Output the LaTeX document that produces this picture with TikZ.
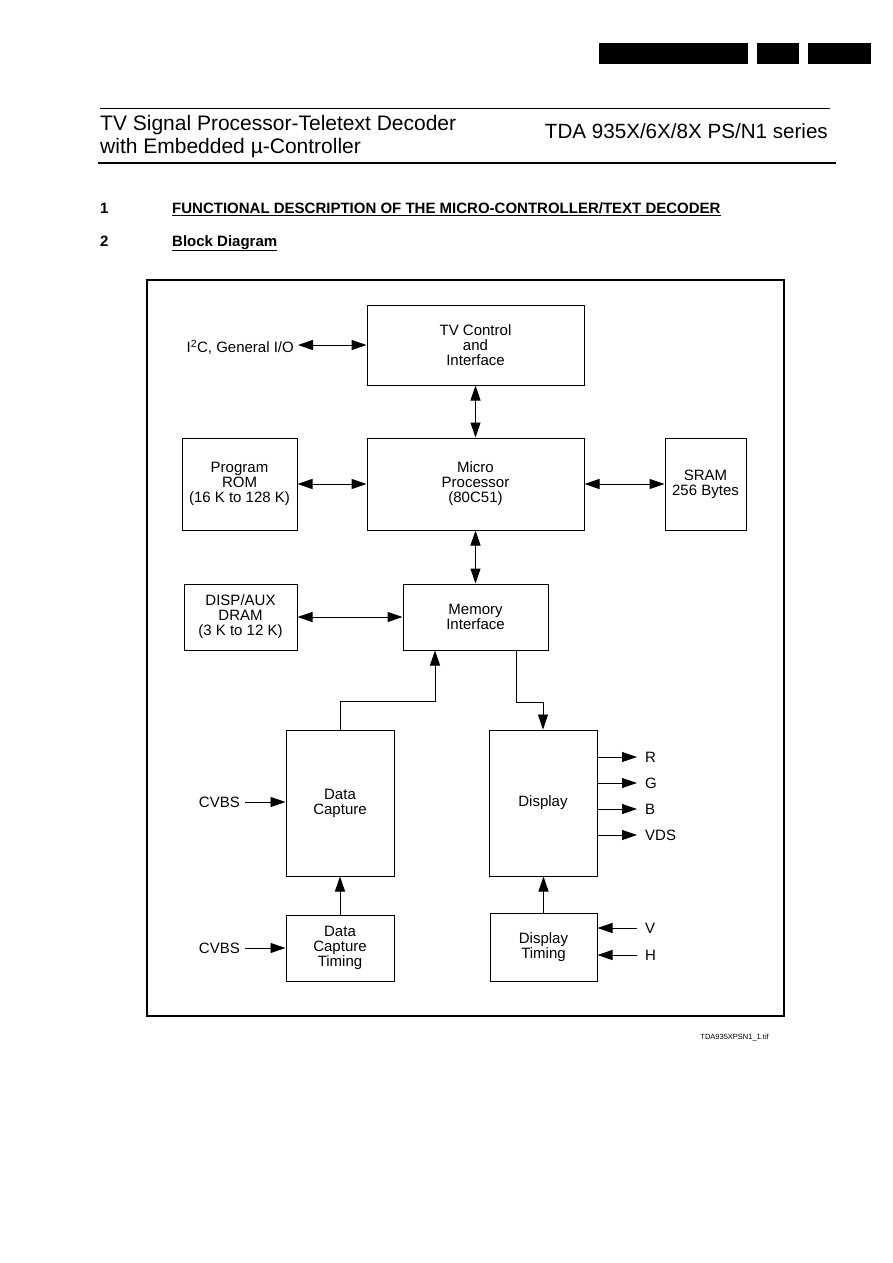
\documentclass[tikz,border=0pt]{standalone}
\usepackage{fontspec}
\setmainfont{Liberation Sans}
\usetikzlibrary{arrows.meta,calc}
\begin{document}
\begin{tikzpicture}[x=1pt,y=-1pt,
 blk/.style={draw, line width=1pt, align=center, inner sep=0pt, font=\fontsize{15}{15}\selectfont},
 lbl/.style={font=\fontsize{15}{15}\selectfont, inner sep=0pt},
 dbl/.style={{Triangle[length=15pt,width=10pt]}-{Triangle[length=15pt,width=10pt]}, line width=1pt},
 arr/.style={-{Triangle[length=15pt,width=10pt]}, line width=0.9pt},
]
\path[use as bounding box, fill=white] (0,0) rectangle (893,1263);
% header bars
\fill (599,43) rectangle (748,64);
\fill (757,43) rectangle (799,64);
\fill (808,43) rectangle (871,64);
% title
\draw[line width=0.8pt] (100,108) -- (830,108);
\draw[line width=1.6pt] (98,163) -- (836,163);
\node[anchor=base west, inner sep=0pt, font=\fontsize{21}{23}\selectfont] (t1) at (100,130) {TV Signal Processor-Teletext Decoder};
\node[anchor=base west, inner sep=0pt, font=\fontsize{21}{23}\selectfont] (t2) at (100,153) {with Embedded µ-Controller};
\node[anchor=base east, inner sep=0pt, font=\fontsize{20.6}{23}\selectfont] (t3) at (828,138) {TDA 935X/6X/8X PS/N1 series};
% headings
\node[anchor=base west, inner sep=0pt, font=\bfseries\fontsize{15}{16}\selectfont] (n1) at (100,213) {1};
\node[anchor=base west, inner sep=0pt, font=\bfseries\fontsize{15}{16}\selectfont] (h1) at (172,213) {\underline{FUNCTIONAL DESCRIPTION OF THE MICRO-CONTROLLER/TEXT DECODER}};
\node[anchor=base west, inner sep=0pt, font=\bfseries\fontsize{15}{16}\selectfont] (n2) at (100,246) {2};
\node[anchor=base west, inner sep=0pt, font=\bfseries\fontsize{15}{16}\selectfont] (h2) at (172,246) {\underline{Block Diagram}};
% frame
\draw[line width=1.6pt] (147,280) rectangle (784,1016);
% blocks
\node[blk, minimum width=217pt, minimum height=80pt] (tv) at (475.5,345) {TV Control\\and\\Interface};
\node[blk, minimum width=217pt, minimum height=92pt] (mp) at (475.5,484) {Micro\\Processor\\(80C51)};
\node[blk, minimum width=115pt, minimum height=92pt] (rom) at (239.5,484) {Program\\ROM\\(16 K to 128 K)};
\node[blk, minimum width=81pt, minimum height=92pt] (sram) at (705.5,484) {SRAM\\256 Bytes};
\node[blk, minimum width=113pt, minimum height=66pt] (dram) at (240.5,617) {DISP/AUX\\DRAM\\(3 K to 12 K)};
\node[blk, minimum width=145pt, minimum height=66pt] (mem) at (475.5,617) {Memory\\Interface};
\node[blk, minimum width=108pt, minimum height=146pt] (dc) at (340,803) {Data\\Capture};
\node[blk, minimum width=108pt, minimum height=146pt] (disp) at (543,803) {Display};
\node[blk, minimum width=108pt, minimum height=66pt] (dct) at (340,948) {Data\\Capture\\Timing};
\node[blk, minimum width=107pt, minimum height=68pt] (dt) at (543.5,947) {Display\\Timing};
% labels
\node[lbl, anchor=east] (i2c) at (294,347) {I\textsuperscript{2}C, General I/O};
\coordinate (i2cend) at (298,345);
\node[lbl, anchor=east] (cv1) at (240,802) {CVBS};
\node[lbl, anchor=east] (cv2) at (240,948) {CVBS};
\node[lbl, anchor=west] (r) at (645,757) {R};
\node[lbl, anchor=west] (g) at (645,783) {G};
\node[lbl, anchor=west] (b) at (645,809) {B};
\node[lbl, anchor=west] (vds) at (645,835) {VDS};
\node[lbl, anchor=west] (v) at (645,928) {V};
\node[lbl, anchor=west] (h) at (645,955) {H};
\node[anchor=base east, inner sep=0pt, font=\fontsize{7.5}{9}\selectfont] (foot) at (769,1039) {TDA935XPSN1\_1.tif};
% connectors
\draw[dbl] (i2cend) -- (tv.west |- i2cend);
\draw[dbl] (tv.south) -- (mp.north);
\draw[dbl] (rom.east) -- (mp.west);
\draw[dbl] (mp.east) -- (sram.west);
\draw[dbl] (mp.south) -- (mem.north);
\draw[dbl] (dram.east) -- (mem.west);
\draw[arr] (dc.north) -- ++(0,-28) -| ([xshift=-40.5pt]mem.south);
\draw[arr] ([xshift=40.5pt]mem.south) -- ++(0,52) -| (disp.north);
\draw[arr] (dct.north) -- (dc.south);
\draw[arr] (dt.north) -- (dt.north |- disp.south);
\draw[arr] ([xshift=5pt]cv1.east) -- (dc.west |- cv1.east);
\draw[arr] ([xshift=5pt]cv2.east) -- (dct.west |- cv2.east);
\draw[arr] (disp.east |- r.west) -- ([xshift=-8pt]r.west);
\draw[arr] (disp.east |- g.west) -- ([xshift=-8pt]g.west);
\draw[arr] (disp.east |- b.west) -- ([xshift=-8pt]b.west);
\draw[arr] (disp.east |- vds.west) -- ([xshift=-8pt]vds.west);
\draw[arr] ([xshift=-8pt]v.west) -- (dt.east |- v.west);
\draw[arr] ([xshift=-8pt]h.west) -- (dt.east |- h.west);
\end{tikzpicture}
\end{document}
